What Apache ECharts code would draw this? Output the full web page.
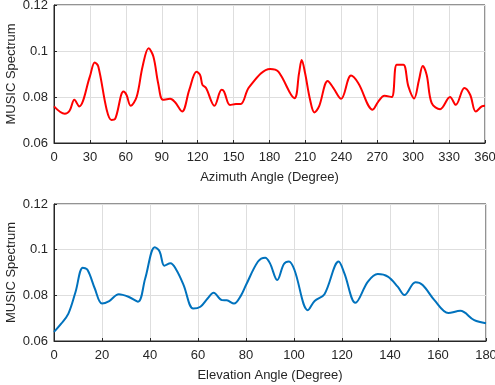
<!DOCTYPE html>
<html>
<head>
<meta charset="utf-8">
<script src="https://cdn.jsdelivr.net/npm/echarts@6/dist/echarts.min.js"></script>
<style>
    html, body { margin: 0; padding: 0; background: #fff; }
    #chart { width: 495px; height: 385px; }
</style>
</head>
<body>
<div id="chart"></div>
<script>
// azimuth spectrum (top panel)
var azimuthDeg = [0, 9, 13, 17, 21, 30, 34, 37, 44, 48, 51, 58, 60.5, 64, 69, 74, 79, 83, 87, 91,
    97, 101, 107, 113, 119, 122, 124, 127, 134, 140, 142, 147, 152, 156, 163, 180.5, 187.4, 200.8, 204.7, 206.9,
    209.7, 213.9, 217.5, 221.4, 228.6, 233.4, 239.8, 248.1, 254.2, 266.2, 271, 276, 282.1, 286.3, 291.8, 296,
    300.8, 304.9, 308, 311.3, 315.5, 322.5, 330.8, 335.6, 342.8, 347.6, 352.3, 357.3, 360];
var azimuthVal = [0.0759, 0.0727, 0.074, 0.0788, 0.0759, 0.089, 0.095, 0.0933, 0.0745, 0.070, 0.0704, 0.0824, 0.081, 0.0762, 0.080, 0.0933, 0.1012, 0.0976, 0.086, 0.0788,
    0.0792, 0.0778, 0.0737, 0.0831, 0.091, 0.0896, 0.0853, 0.0839, 0.0762, 0.0831, 0.0824, 0.0765, 0.077, 0.077, 0.0843, 0.0922, 0.091, 0.0795, 0.0904, 0.0961,
    0.0904, 0.0788, 0.0733, 0.0759, 0.087, 0.0839, 0.0792, 0.0893, 0.086, 0.0745, 0.0781, 0.0805, 0.080, 0.094, 0.094, 0.0846,
    0.0794, 0.0875, 0.0935, 0.0896, 0.0773, 0.0747, 0.080, 0.0766, 0.0839, 0.081, 0.0737, 0.0759, 0.0762];

// elevation spectrum (bottom panel)
var elevationDeg = [0, 3, 6, 9, 12, 14, 17, 20, 23, 27, 31, 35, 38, 42, 44, 46, 48.5, 51, 54, 58,
    61, 64, 66.5, 70, 72, 75, 78, 80, 85, 88, 90, 93, 95.8, 97.9, 100.2, 105.8, 108.6, 112.7, 118.6, 121,
    125.6, 130.8, 134.9, 139.1, 143.2, 146, 150.6, 153.6, 158.5, 164.3, 169.3, 175.1, 180];
var elevationVal = [0.064, 0.0676, 0.072, 0.0816, 0.0921, 0.0911, 0.083, 0.0764, 0.0775, 0.0805, 0.0794, 0.0772, 0.0874, 0.1011, 0.0992, 0.093, 0.094, 0.0911, 0.0845, 0.0742,
    0.075, 0.0786, 0.0811, 0.0779, 0.0778, 0.0764, 0.0801, 0.0845, 0.0948, 0.0965, 0.094, 0.0867, 0.0937, 0.0948, 0.0911, 0.0735, 0.0775, 0.0805, 0.0948, 0.0896,
    0.0767, 0.086, 0.0893, 0.0882, 0.0838, 0.0801, 0.0857, 0.0845, 0.0779, 0.0723, 0.0732, 0.0691, 0.0678];

var yTicks = ['0.06', '0.08', '0.1', '0.12'];

function pairs(xs, ys) {
    var out = [];
    for (var i = 0; i < xs.length; i++) {
        out.push([xs[i], ys[i]]);
    }
    return out;
}

var fontFamily = 'Liberation Sans, Arial, sans-serif';
var textStyle = { color: '#262626', fontSize: 13, fontFamily: fontFamily };

function xAxisFor(idx, max, step, name) {
    return {
        type: 'value', gridIndex: idx, min: 0, max: max, interval: step,
        name: name, nameLocation: 'middle', nameGap: 28, nameMoveOverlap: false,
        nameTextStyle: textStyle,
        axisLine: { show: true, onZero: false, lineStyle: { color: '#262626' } },
        axisTick: { show: true, inside: true, length: 3, lineStyle: { color: '#262626' } },
        axisLabel: { color: '#262626', fontSize: 13, fontFamily: fontFamily, margin: 8 },
        splitLine: { show: true, lineStyle: { color: '#dedede' } }
    };
}

function yAxisFor(idx) {
    return {
        type: 'value', gridIndex: idx, min: 0.06, max: 0.12, interval: 0.02,
        name: 'MUSIC Spectrum', nameLocation: 'middle', nameGap: 36, nameRotate: 90,
        nameMoveOverlap: false,
        nameTextStyle: textStyle,
        axisLine: { show: true, lineStyle: { color: '#262626' } },
        axisTick: { show: true, inside: true, length: 3, lineStyle: { color: '#262626' } },
        axisLabel: {
            color: '#262626', fontSize: 13, fontFamily: fontFamily, margin: 6,
            formatter: function (v) {
                return yTicks[Math.round((v - 0.06) / 0.02)];
            }
        },
        splitLine: { show: true, lineStyle: { color: '#dedede' } }
    };
}

var chart = echarts.init(document.getElementById('chart'));
chart.setOption({
    animation: false,
    backgroundColor: '#fff',
    grid: [
        { left: 54, right: 10, top: 5, height: 138, outerBoundsMode: 'none', containLabel: false,
            show: true, borderColor: '#262626', borderWidth: 1 },
        { left: 54, right: 9, top: 204, height: 137, outerBoundsMode: 'none', containLabel: false,
            show: true, borderColor: '#262626', borderWidth: 1 }
    ],
    xAxis: [
        xAxisFor(0, 360, 30, 'Azimuth Angle (Degree)'),
        xAxisFor(1, 180, 20, 'Elevation Angle (Degree)')
    ],
    yAxis: [yAxisFor(0), yAxisFor(1)],
    series: [
        {
            type: 'line', xAxisIndex: 0, yAxisIndex: 0, smooth: 0.35, showSymbol: false,
            lineStyle: { color: '#ff0000', width: 2 },
            data: pairs(azimuthDeg, azimuthVal)
        },
        {
            type: 'line', xAxisIndex: 1, yAxisIndex: 1, smooth: 0.35, showSymbol: false,
            lineStyle: { color: '#0072bd', width: 2 },
            data: pairs(elevationDeg, elevationVal)
        }
    ]
});
</script>
</body>
</html>
